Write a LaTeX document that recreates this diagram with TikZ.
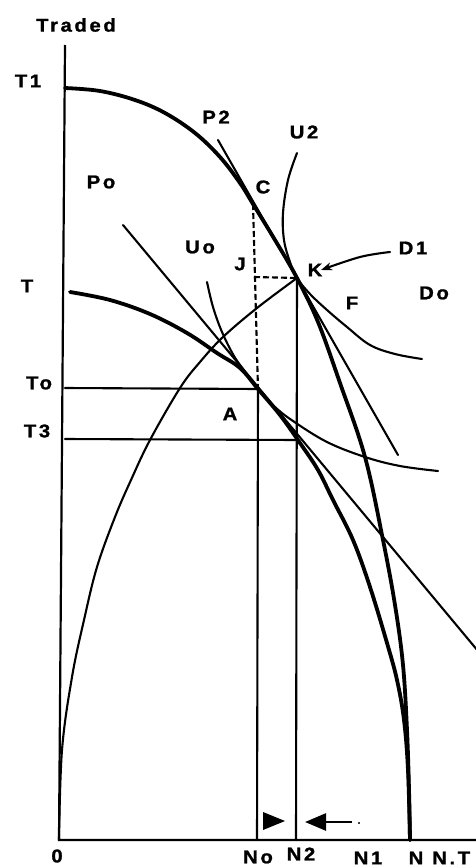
\documentclass[tikz,border=0pt]{standalone}
\usepackage{fontspec}
\setmainfont{Liberation Sans}[FakeStretch=1.1,LetterSpace=14,FakeBold=1.2]
\usetikzlibrary{arrows.meta}
\begin{document}
\begin{tikzpicture}[x=1pt,y=-1pt,
  lbl/.style={font=\bfseries\fontsize{18.5}{18.5}\selectfont,inner sep=0pt},
  ppf/.style={line width=3.8pt,line cap=round,line join=round},
  thin/.style={line width=2.1pt,line cap=round,line join=round},
  dsh/.style={line width=2.1pt,dash pattern=on 6pt off 3pt}]
\useasboundingbox (0,0) rectangle (475,867);
% key points
\coordinate (O) at (59,840);
\coordinate (Ytop) at (65,45);
\coordinate (Xend) at (478,840);
\coordinate (C) at (253,204);
\coordinate (K) at (297,278);
\coordinate (A) at (258,389);
\coordinate (Tol) at (65,388);
\coordinate (T3l) at (65,439);
\coordinate (T3r) at (297,440);
\coordinate (Nob) at (257,840);
\coordinate (N2b) at (296,840);
\coordinate (Jc) at (254,277);
% axes
\draw[line width=2.2pt] (Ytop) -- (O) -- (Xend);
% outer PPF (T1-N)
\draw[ppf] plot[smooth,tension=0.6] coordinates {(65,88) (100,91) (135,100) (165,113) (195,133) (220,157) (240,183) (C) (275,240) (K) (318,322) (340,383) (365,457) (383,540) (395,605) (403,665) (407,730) (409,790) (410,840)};
% inner PPF (T-N)
\draw[ppf] plot[smooth,tension=0.6] coordinates {(70,292) (110,300) (150,314) (187,333) (217,353) (240,368) (A) (280,415) (300,443) (318,470) (333,500) (353,540) (370,587) (387,643) (397,680) (404,720) (408,770) (410,840)};
% price lines
\draw[thin] (218,140) -- (398,455);
\draw[thin] (123,225) -- (478,651);
% Uo
\draw[thin] plot[smooth,tension=0.6] coordinates {(207,282) (213,307) (222,332) (234,356) (246,373) (A) (275,407) (293,421) (327,442) (365,457) (400,466) (438,471)};
% U2
\draw[thin] plot[smooth,tension=0.6] coordinates {(297,153) (288,180) (283,213) (284,240) (290,262) (K) (310,294) (327,310) (347,327) (370,345) (395,354) (422,359)};
% offer curve Do
\draw[thin] plot[smooth,tension=0.6] coordinates {(O) (62,750) (72,677) (84,620) (97,567) (115,517) (131,480) (150,440) (180,388) (200,362) (223,337) (257,308) (K)};
% D1 arrow
\draw[thin,-{Stealth[length=11pt,width=8pt]}] plot[smooth,tension=0.6] coordinates {(390,252) (360,257) (321,270)};
% dashed
\draw[dsh] (C) -- (A);
\draw[dsh] (Jc) -- (K);
% solid guides
\draw[thin] (A) -- (Nob);
\draw[thin] (K) -- (N2b);
\draw[thin] (Tol) -- (A);
\draw[thin] (T3l) -- (T3r);
% bottom arrows
\fill (263,812) -- (285,821) -- (263,830) -- cycle;
\coordinate (La) at (352,822);
\coordinate (Lb) at (305,822);
\draw[line width=2.6pt,-{Triangle[length=21pt,width=17pt]}] (La) -- (Lb);
\fill (359,823) circle (1.1pt);
% labels
\node[lbl] (lTraded) at (76,25) {Traded};
\node[lbl] (lT1) at (28,81) {T1};
\node[lbl] (lP2) at (216,117) {P2};
\node[lbl] (lPo) at (101,182) {Po};
\node[lbl] (lU2) at (304,132) {U2};
\node[lbl] (lC) at (263,187) {C};
\node[lbl] (lUo) at (200,247) {Uo};
\node[lbl] (lJ) at (240,264) {J};
\node[lbl] (lK) at (315,270) {K};
\node[lbl] (lD1) at (413,248) {D1};
\node[lbl] (lT) at (27,286) {T};
\node[lbl] (lDo) at (434,293) {Do};
\node[lbl] (lF) at (352,303) {F};
\node[lbl] (lTo) at (39,383) {To};
\node[lbl] (lA) at (230,414) {A};
\node[lbl] (lT3) at (37,431) {T3};
\node[lbl] (l0) at (57,856) {0};
\node[lbl] (lNo) at (258,857) {No};
\node[lbl] (lN2) at (301,854) {N2};
\node[lbl] (lN1) at (368,858) {N1};
\node[lbl] (lN) at (416,858) {N};
\node[lbl,anchor=west] (lNT) at (432,858) {N.T};
\end{tikzpicture}
\end{document}
